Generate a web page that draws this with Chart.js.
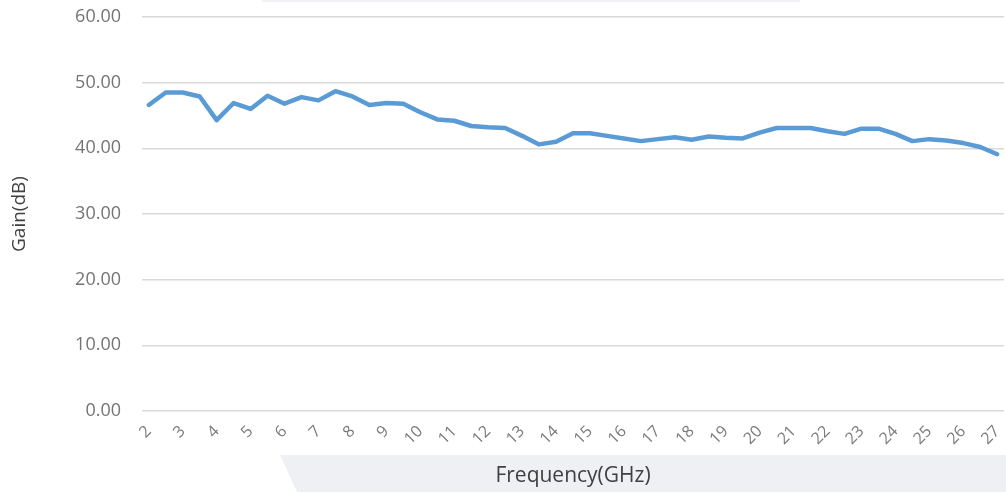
<!DOCTYPE html>
<html>
<head>
<meta charset="utf-8">
<script src="https://cdn.jsdelivr.net/npm/chart.js@4/dist/chart.umd.min.js"></script>
<style>
  html, body { margin: 0; padding: 0; background: #fff; }
  #wrap { width: 1006px; height: 492px; }
</style>
</head>
<body>
<div id="wrap"><canvas id="gainChart" width="1006" height="492"></canvas></div>
<script>
// 頻率 (GHz) 與增益 (dB)
const freqs = [2, 2.5, 3, 3.5, 4, 4.5, 5, 5.5, 6, 6.5, 7, 7.5, 8, 8.5, 9, 9.5, 10, 10.5, 11, 11.5,
  12, 12.5, 13, 13.5, 14, 14.5, 15, 15.5, 16, 16.5, 17, 17.5, 18, 18.5, 19, 19.5, 20, 20.5, 21, 21.5,
  22, 22.5, 23, 23.5, 24, 24.5, 25, 25.5, 26, 26.5, 27];
const gain = [46.6, 48.5, 48.5, 47.9, 44.3, 46.9, 46.0, 48.0, 46.8, 47.8, 47.3, 48.7, 47.9, 46.6, 46.9, 46.8, 45.5, 44.4, 44.2, 43.4,
  43.2, 43.1, 41.9, 40.6, 41.0, 42.3, 42.3, 41.9, 41.5, 41.1, 41.4, 41.7, 41.3, 41.8, 41.6, 41.5, 42.4, 43.1, 43.1, 43.1,
  42.6, 42.2, 43.0, 43.0, 42.2, 41.1, 41.4, 41.2, 40.8, 40.2, 39.1];
const xTicks = [2, 3, 4, 5, 6, 7, 8, 9, 10, 11, 12, 13, 14, 15, 16, 17, 18, 19, 20, 21, 22, 23, 24, 25, 26, 27];

const bands = {
  id: 'bands',
  beforeDraw(chart) {
    const ctx = chart.ctx;
    ctx.save();
    ctx.fillStyle = '#eef0f4';
    ctx.beginPath();
    ctx.moveTo(280, 455);
    ctx.lineTo(1006, 455);
    ctx.lineTo(1006, 492);
    ctx.lineTo(297, 492);
    ctx.closePath();
    ctx.fill();
    ctx.fillStyle = '#f1f1f6';
    ctx.fillRect(262, 0, 538, 2);
    ctx.restore();
  }
};

new Chart(document.getElementById('gainChart'), {
  type: 'line',
  data: {
    datasets: [{
      label: 'Gain',
      data: freqs.map((f, i) => ({ x: f, y: gain[i] })),
      borderColor: '#5b9bd5',
      borderWidth: 4.5,
      pointRadius: 0,
      tension: 0,
      borderJoinStyle: 'round',
      borderCapStyle: 'round'
    }]
  },
  options: {
    responsive: false,
    animation: false,
    layout: { padding: { top: 17, right: 2, left: 0, bottom: 0 } },
    plugins: { legend: { display: false }, tooltip: { enabled: false } },
    scales: {
      x: {
        type: 'linear',
        min: 1.8,
        max: 27.2,
        afterBuildTicks: s => { s.ticks = xTicks.map(v => ({ value: v })); },
        afterFit: s => { s.height = 81; s.paddingRight = 0; s.paddingLeft = 0; },
        grid: { display: false },
        border: { display: false },
        ticks: {
          autoSkip: false,
          minRotation: 45,
          maxRotation: 45,
          padding: 3,
          color: '#7a7a7a',
          font: { family: 'Open Sans', size: 16 }
        },
        title: {
          display: true,
          text: 'Frequency(GHz)',
          color: '#404040',
          padding: { top: 0, bottom: 3 },
          font: { family: 'Open Sans', size: 21 }
        }
      },
      y: {
        min: 0,
        max: 60,
        afterFit: s => { s.width = 142; s.paddingTop = 0; s.paddingBottom = 0; },
        grid: { color: '#d9d9d9', lineWidth: 1.5, drawTicks: false },
        border: { display: false },
        ticks: {
          stepSize: 10,
          padding: 21,
          color: '#747474',
          font: { family: 'Open Sans', size: 18 },
          callback: v => v.toFixed(2)
        },
        title: {
          display: true,
          text: 'Gain(dB)',
          color: '#404040',
          padding: { top: 8, bottom: 0 },
          font: { family: 'Open Sans', size: 19 }
        }
      }
    }
  },
  plugins: [bands]
});
</script>
</body>
</html>
